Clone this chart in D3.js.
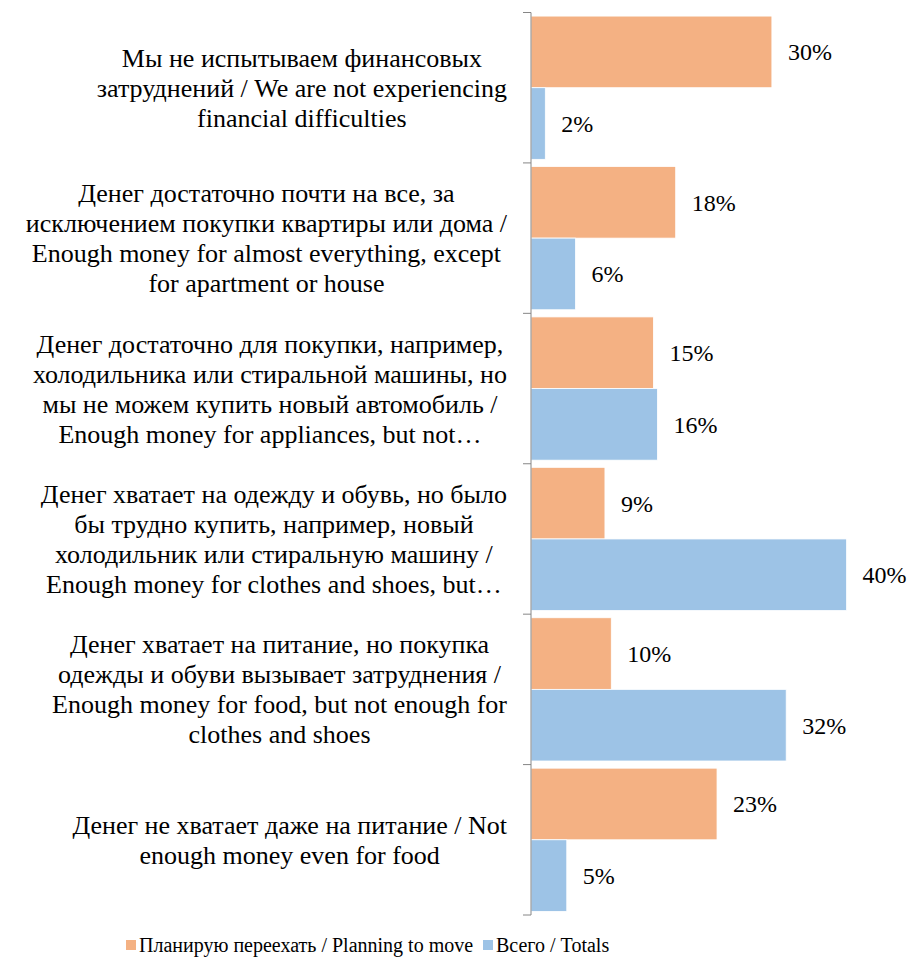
<!DOCTYPE html>
<html>
<head>
<meta charset="utf-8">
<script src="https://cdn.jsdelivr.net/npm/d3@7"></script>
</head>
<body style="margin:0">
<script>
// categories, one string per line of the wrapped label
const categories = [
  ["Мы не испытываем финансовых", "затруднений / We are not experiencing", "financial difficulties"],
  ["Денег достаточно почти на все, за", "исключением покупки квартиры или дома /", "Enough money for almost everything, except", "for apartment or house"],
  ["Денег достаточно для покупки, например,", "холодильника или стиральной машины, но", "мы не можем купить новый автомобиль /", "Enough money for appliances, but not…"],
  ["Денег хватает на одежду и обувь, но было", "бы трудно купить, например, новый", "холодильник или стиральную машину /", "Enough money for clothes and shoes, but…"],
  ["Денег хватает на питание, но покупка", "одежды и обуви вызывает затруднения /", "Enough money for food, but not enough for", "clothes and shoes"],
  ["Денег не хватает даже на питание / Not", "enough money even for food"]
];
const seriesNames = ["Планирую переехать / Planning to move", "Всего / Totals"];
const planning = [0.303, 0.182, 0.154, 0.093, 0.101, 0.234];
const totals = [0.018, 0.056, 0.159, 0.397, 0.321, 0.045];
const colors = ["#F4B183", "#9DC3E6"];

const width = 914, height = 957;
const axisX = 531, plotTop = 12.5, plotBottom = 915;

const svg = d3.select('body').append('svg')
  .attr('width', width)
  .attr('height', height);

const y = d3.scaleBand()
  .domain(d3.range(categories.length))
  .range([plotTop, plotBottom]);

const ySub = d3.scaleBand()
  .domain([0, 1])
  .range([0, y.bandwidth()])
  .paddingOuter(0.05)
  .paddingInner(0);

const x = d3.scaleLinear()
  .domain([0, 0.40])
  .range([axisX, axisX + 318]);

const fmt = d3.format('.0%');

const rows = categories.map((c, i) => ({ i, vals: [planning[i], totals[i]] }));

const groups = svg.selectAll('.cat')
  .data(rows)
  .enter()
  .append('g')
  .attr('class', 'cat')
  .attr('transform', d => `translate(0,${y(d.i)})`);

// bars
groups.selectAll('rect')
  .data(d => d.vals.map((v, s) => ({ v, s })))
  .enter()
  .append('rect')
  .attr('x', x(0))
  .attr('y', d => ySub(d.s))
  .attr('width', d => x(d.v) - x(0))
  .attr('height', ySub.bandwidth())
  .style('fill', d => colors[d.s])
  .style('stroke', '#fff')
  .style('stroke-width', 0.8);

// value labels
groups.selectAll('.val')
  .data(d => d.vals.map((v, s) => ({ v, s })))
  .enter()
  .append('text')
  .attr('class', 'val')
  .attr('x', d => x(d.v) + 16)
  .attr('y', d => ySub(d.s) + ySub.bandwidth() / 2)
  .attr('dy', '0.35em')
  .style('font-family', d => '"Liberation Serif"')
  .style('font-size', '24px')
  .text(d => fmt(d.v));

// category axis
const axis = svg.append('g')
  .attr('transform', `translate(${axisX},0)`)
  .call(d3.axisLeft(y).tickSize(0).tickFormat(''));
axis.select('.domain').attr('stroke', '#868686').attr('d', `M0,${plotTop}V${plotBottom}`);
axis.selectAll('.tick').remove();

const tickPos = d3.range(categories.length + 1).map(i => plotTop + i * y.step());
axis.selectAll('.tk')
  .data(tickPos)
  .enter()
  .append('line')
  .attr('x1', -8).attr('x2', 0)
  .attr('y1', d => d).attr('y2', d => d)
  .attr('stroke', '#868686');

// category labels: block right-aligned near the axis, lines centred in it
const labelRight = 507, lineH = 30;
groups.each(function (d) {
  const lines = categories[d.i];
  const n = lines.length;
  const t = d3.select(this).selectAll('.lbl')
    .data(lines)
    .enter()
    .append('text')
    .attr('class', 'lbl')
    .attr('text-anchor', 'middle')
    .attr('y', (ln, k) => y.bandwidth() / 2 + (k - (n - 1) / 2) * lineH)
    .attr('dy', '0.35em')
    .style('font-family', ln => '"Liberation Serif"')
    .style('font-size', '26px')
    .text(ln => ln);
  let maxW = 0;
  t.each(function () { maxW = Math.max(maxW, this.getComputedTextLength()); });
  t.attr('x', labelRight - maxW / 2);
});

// legend
const legend = svg.append('g').attr('transform', 'translate(0,945)');
const legendX = [126, 483];
const items = legend.selectAll('.legend-item')
  .data(seriesNames)
  .enter()
  .append('g')
  .attr('class', 'legend-item')
  .attr('transform', (d, i) => `translate(${legendX[i]},0)`);
items.append('rect')
  .attr('x', 0).attr('y', -5)
  .attr('width', 10).attr('height', 10)
  .style('fill', (d, i) => colors[i]);
items.append('text')
  .attr('x', 13)
  .attr('dy', '0.35em')
  .style('font-family', d => '"Liberation Serif"')
  .style('font-size', '20px')
  .text(d => d);
</script>
</body>
</html>
